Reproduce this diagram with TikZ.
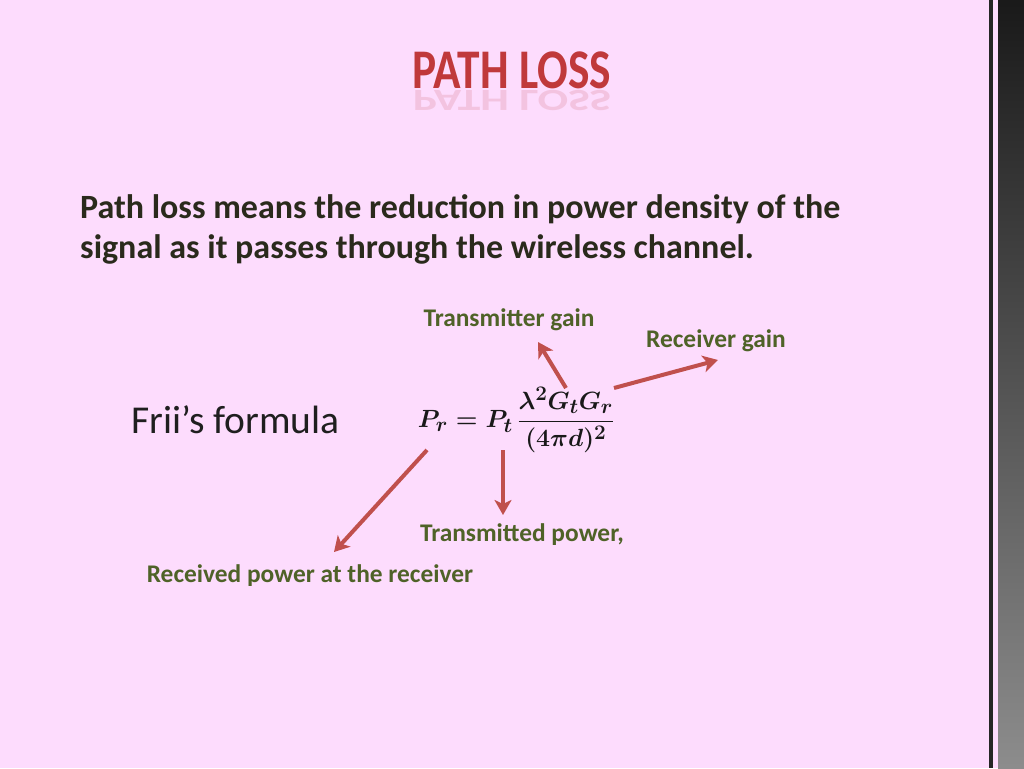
\documentclass[tikz,border=0pt]{standalone}
\usepackage{amsmath}
\usepackage{fontspec}
\setmainfont{Carlito}
\usetikzlibrary{arrows.meta,fadings}
\definecolor{bg}{HTML}{FDDCFD}
\definecolor{arrowred}{HTML}{C0504D}
\definecolor{labelgreen}{HTML}{4F6228}
\definecolor{bodytext}{HTML}{2A2A1C}
\definecolor{titlered}{HTML}{C0393B}
\newsavebox{\friisbox}
\tikzset{
  redarrow/.style={draw=arrowred, line width=4pt, -{Stealth[length=15pt,width=17pt,inset=4pt]}},
  lbl/.style={font=\fontsize{25.4}{30}\selectfont\bfseries, text=labelgreen, inner sep=0pt},
  bodyline/.style={font=\fontsize{34}{40}\selectfont\bfseries, text=bodytext, inner sep=0pt, anchor=base west},
}
\begin{document}
\sbox{\friisbox}{\fontsize{29}{34}\selectfont\color{black!90}\boldmath$P_r = P_t\,\displaystyle\frac{\lambda^2 G_t G_r}{(4\pi d)^2}$}%
\begin{tikzpicture}[x=1pt,y=-1pt]
\useasboundingbox (0,0) rectangle (1024,768);
\fill[bg] (0,0) rectangle (1024,768);
% right decorative strip
\fill[black!85] (989,0) rectangle (993,768);
\shade[top color=black!90, bottom color=black!45] (998,0) rectangle (1024,768);
% title
\node[inner sep=0pt, anchor=base, text=titlered, font=\fontsize{56}{60}\selectfont\bfseries] (title) at (512,88) {\scalebox{0.81}[1]{PATH LOSS}};
\node[inner sep=0pt, anchor=base, text=titlered, opacity=0.15, font=\fontsize{56}{60}\selectfont\bfseries] (titlerefl) at (512,90) {\scalebox{0.81}[-0.55]{PATH LOSS}};
% body
\node[bodyline] (line1) at (80,218) {Path loss means the reduction in power density of the};
\node[bodyline] (line2) at (80,258) {signal as it passes through the wireless channel.};
% Friis formula label
\node[inner sep=0pt, anchor=base west, text=black!88, font=\fontsize{39.5}{46}\selectfont] (frii) at (131,433) {Frii’s formula};
% the formula
\node[inner sep=0pt] (eqn) at (516,420) {\usebox{\friisbox}};
% anchor points on formula
\coordinate (tgstart) at (566,388);
\coordinate (rgstart) at (614,388);
\coordinate (prstart) at (427,450);
\coordinate (ptstart) at (503,450);
% labels
\node[lbl] (tg) at (509,320) {Transmitter gain};
\node[lbl] (rg) at (716,341) {Receiver gain};
\node[lbl] (tp) at (522,535) {Transmitted power,};
\node[lbl] (rp) at (310,576) {Received power at the receiver};
\coordinate (tgend) at (538,342);
\coordinate (rgend) at (718,360);
\coordinate (prend) at (334,552);
\coordinate (ptend) at (503,515);
\draw[redarrow] (tgstart) -- (tgend);
\draw[redarrow] (rgstart) -- (rgend);
\draw[redarrow] (prstart) -- (prend);
\draw[redarrow] (ptstart) -- (ptend);
\end{tikzpicture}
\end{document}
